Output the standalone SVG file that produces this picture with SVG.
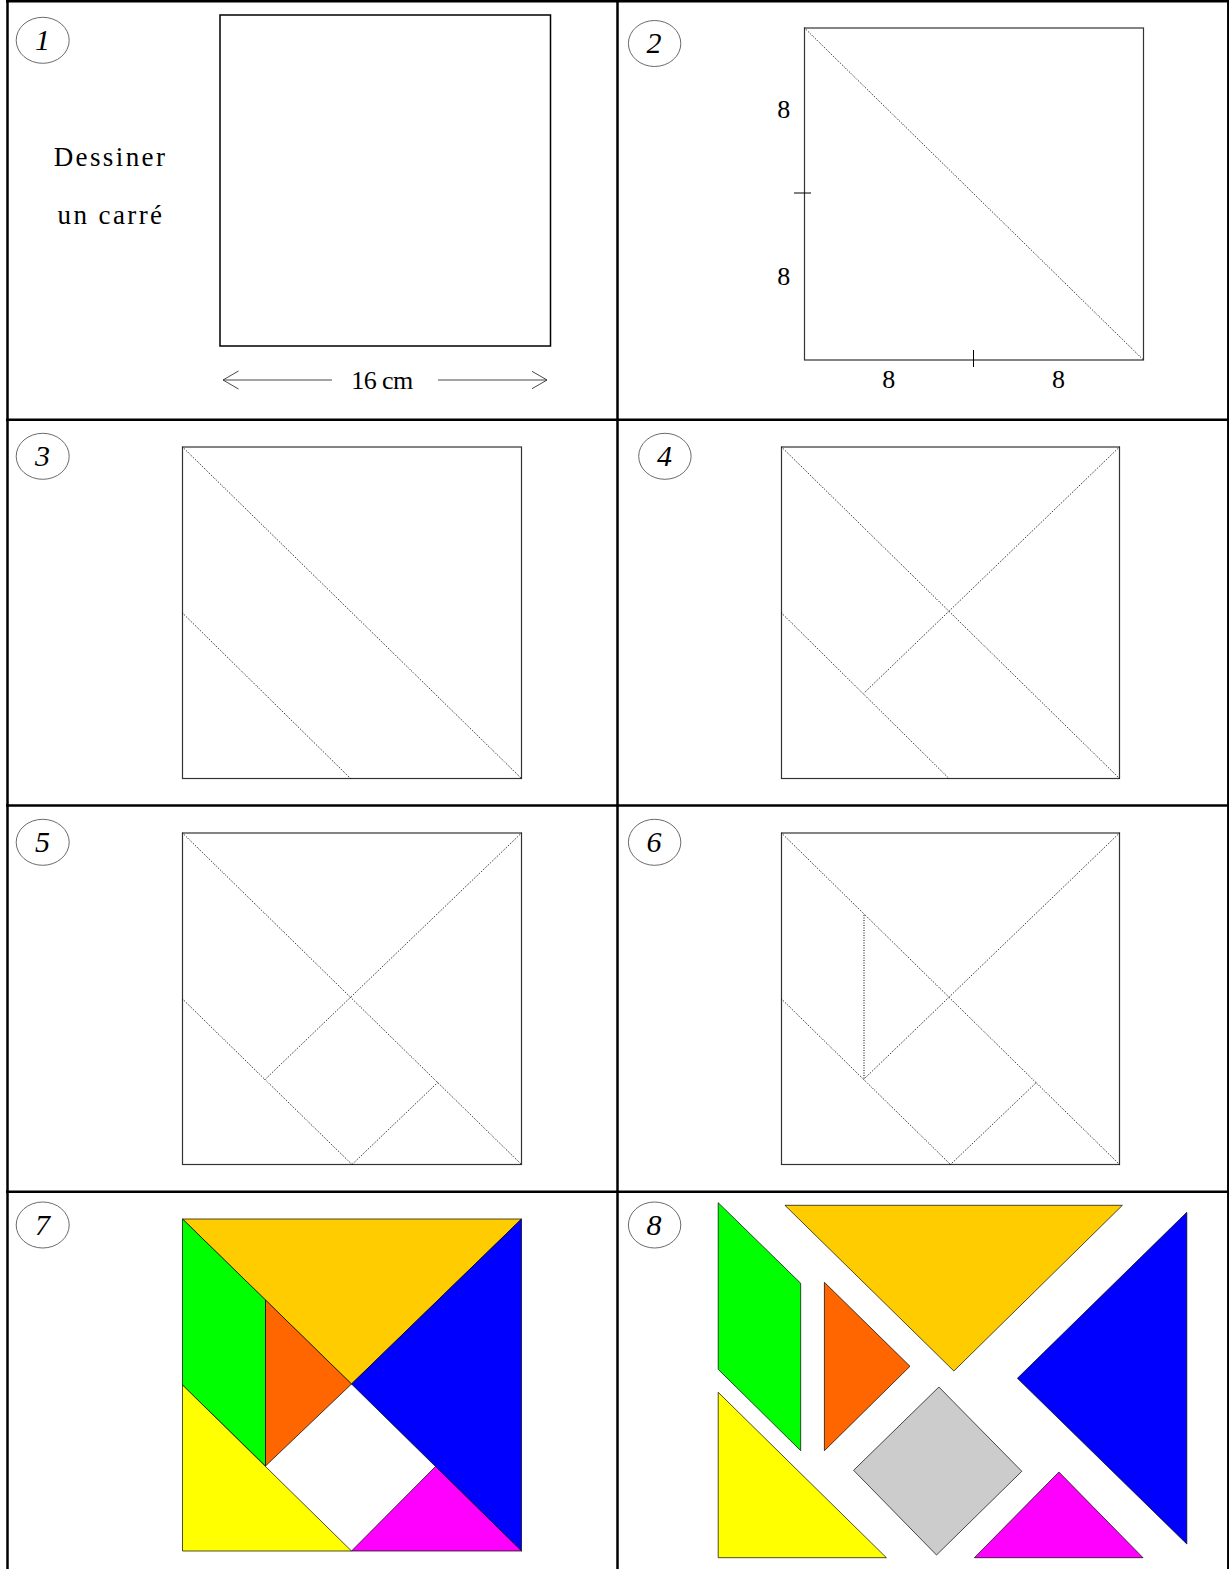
<svg xmlns="http://www.w3.org/2000/svg" width="1229" height="1569" viewBox="0 0 1229 1569">
<style>
.grid{stroke:#000;stroke-width:2.5;fill:none}
.sq{fill:none;stroke:#333;stroke-width:1.2}
.fold{fill:none;stroke:#000;stroke-width:1;stroke-dasharray:1 1.5}
.badge{fill:none;stroke:#444;stroke-width:.8}
.n{font-family:"Liberation Serif",serif;font-style:italic;font-size:30px;text-anchor:middle;fill:#000}
.t{font-family:"Liberation Serif",serif;font-size:26px;text-anchor:middle;fill:#000}
.p{stroke:#000;stroke-width:.7;stroke-linejoin:miter}
</style>
<defs>
<marker id="open" viewBox="0 0 16 20" refX="15.5" refY="10" markerWidth="16" markerHeight="20" markerUnits="userSpaceOnUse" orient="auto-start-reverse"><path d="M0 1L15.5 10L0 19" fill="none" stroke="#333" stroke-width=".9"/></marker>
</defs>
<rect width="1229" height="1569" fill="#fff"/>
<g id="grid">
<line class="grid" x1="6" y1="1.3" x2="1229" y2="1.3"/>
<line class="grid" x1="7.5" y1="0" x2="7.5" y2="1569"/>
<line class="grid" x1="617.5" y1="0" x2="617.5" y2="1569"/>
<line class="grid" x1="1228.3" y1="0" x2="1228.3" y2="1569"/>
<line class="grid" x1="6" y1="419.7" x2="1229" y2="419.7"/>
<line class="grid" x1="6" y1="805.5" x2="1229" y2="805.5"/>
<line class="grid" x1="6" y1="1191.7" x2="1229" y2="1191.7"/>
</g>
<g id="cell1">
<ellipse class="badge" cx="42.7" cy="40.3" rx="26.5" ry="23"/><text class="n" x="42.5" y="50">1</text>
<rect x="220" y="15" width="330.5" height="331" fill="none" stroke="#000" stroke-width="1.5"/>
<text class="t" x="110.5" y="165.7" letter-spacing="2.4" style="font-size:27px">Dessiner</text>
<text class="t" x="111" y="224" letter-spacing="2.4" style="font-size:27px">un carré</text>
<text class="t" x="382" y="388.5" letter-spacing="-.6">16 cm</text>
<line x1="332" y1="380" x2="223" y2="380" stroke="#333" stroke-width=".9" marker-end="url(#open)"/>
<line x1="438" y1="380" x2="547" y2="380" stroke="#333" stroke-width=".9" marker-end="url(#open)"/>
</g>
<g id="cell2">
<ellipse class="badge" cx="654.6" cy="43.5" rx="26.2" ry="23"/><text class="n" x="654" y="52.7">2</text>
<rect class="sq" x="804.5" y="28" width="339" height="332"/>
<line class="fold" x1="804.5" y1="28" x2="1143.5" y2="360"/>
<line x1="794" y1="193" x2="811" y2="193" stroke="#000"/>
<line x1="973.5" y1="350" x2="973.5" y2="367" stroke="#000"/>
<text class="t" x="783.7" y="118">8</text><text class="t" x="783.7" y="285">8</text>
<text class="t" x="888.7" y="388">8</text><text class="t" x="1058.5" y="388">8</text>
</g>
<g id="cell3">
<ellipse class="badge" cx="42.7" cy="456.3" rx="26.5" ry="23"/><text class="n" x="42.5" y="466">3</text>
<rect class="sq" x="182.5" y="447" width="339" height="331.5"/>
<line class="fold" x1="182.5" y1="447" x2="521.5" y2="778.5"/>
<line class="fold" x1="182.5" y1="613" x2="350.5" y2="778.5"/>
</g>
<g id="cell4">
<ellipse class="badge" cx="664.9" cy="456.3" rx="26.2" ry="23"/><text class="n" x="664.5" y="466">4</text>
<rect class="sq" x="781.5" y="447" width="338" height="331.5"/>
<line class="fold" x1="781.5" y1="447" x2="1119.5" y2="778.5"/>
<line class="fold" x1="781.5" y1="613" x2="949" y2="778.5"/>
<line class="fold" x1="1119.5" y1="447" x2="863.5" y2="693.5"/>
</g>
<g id="cell5">
<ellipse class="badge" cx="42.7" cy="842.3" rx="26.5" ry="23"/><text class="n" x="42.5" y="852">5</text>
<rect class="sq" x="182.5" y="833" width="339" height="331.5"/>
<line class="fold" x1="182.5" y1="833" x2="521.5" y2="1164.5"/>
<line class="fold" x1="182.5" y1="999" x2="352" y2="1164.5"/>
<line class="fold" x1="521.5" y1="833" x2="265" y2="1079.5"/>
<line class="fold" x1="352" y1="1164.5" x2="437.7" y2="1082.5"/>
</g>
<g id="cell6">
<ellipse class="badge" cx="654.6" cy="842.3" rx="26.2" ry="23"/><text class="n" x="654" y="852">6</text>
<rect class="sq" x="781.5" y="833" width="338" height="331.5"/>
<line class="fold" x1="781.5" y1="833" x2="1119.5" y2="1164.5"/>
<line class="fold" x1="781.5" y1="999" x2="950.5" y2="1164.5"/>
<line class="fold" x1="1119.5" y1="833" x2="863.5" y2="1079.5"/>
<line class="fold" x1="950.5" y1="1164.5" x2="1036.4" y2="1082.5"/>
<line class="fold" x1="864" y1="915" x2="864" y2="1079"/>
</g>
<g id="cell7">
<ellipse class="badge" cx="42.7" cy="1225" rx="26.5" ry="23"/><text class="n" x="42.5" y="1234.5">7</text>
<polygon class="p" fill="#ffcc00" points="182.5,1219 521.5,1219 351.5,1384"/>
<polygon class="p" fill="#0000ff" points="521.5,1219 521.5,1551 351.5,1384"/>
<polygon class="p" fill="#00ff00" points="182.5,1219 265.5,1300 265.5,1466 182.5,1385"/>
<polygon class="p" fill="#ff6600" points="265.5,1300 351.5,1384 265.5,1466"/>
<polygon class="p" fill="#ffff00" points="182.5,1385 351.5,1551 182.5,1551"/>
<polygon class="p" fill="#ff00ff" points="351.5,1551 435.5,1466.5 521.5,1551"/>
</g>
<g id="cell8">
<ellipse class="badge" cx="654.6" cy="1225" rx="26.2" ry="23"/><text class="n" x="654" y="1234.5">8</text>
<polygon class="p" fill="#00ff00" points="718.2,1202.7 800.7,1283.3 800.7,1450.7 718.2,1369.3"/>
<polygon class="p" fill="#ffcc00" points="784.9,1205.3 1122.4,1205.3 953.9,1371"/>
<polygon class="p" fill="#0000ff" points="1186.8,1212.3 1186.8,1544 1017.4,1378.3"/>
<polygon class="p" fill="#ff6600" points="824.4,1282.3 910,1366.3 824.4,1450.7"/>
<polygon class="p" fill="#cccccc" points="938.9,1387 1021.8,1471.3 936.5,1555 853.6,1470.3"/>
<polygon class="p" fill="#ffff00" points="718.2,1392.3 886.4,1557.7 718.2,1557.7"/>
<polygon class="p" fill="#ff00ff" points="1058.9,1472 1143,1557.7 974.4,1557.7"/>
</g>
</svg>
